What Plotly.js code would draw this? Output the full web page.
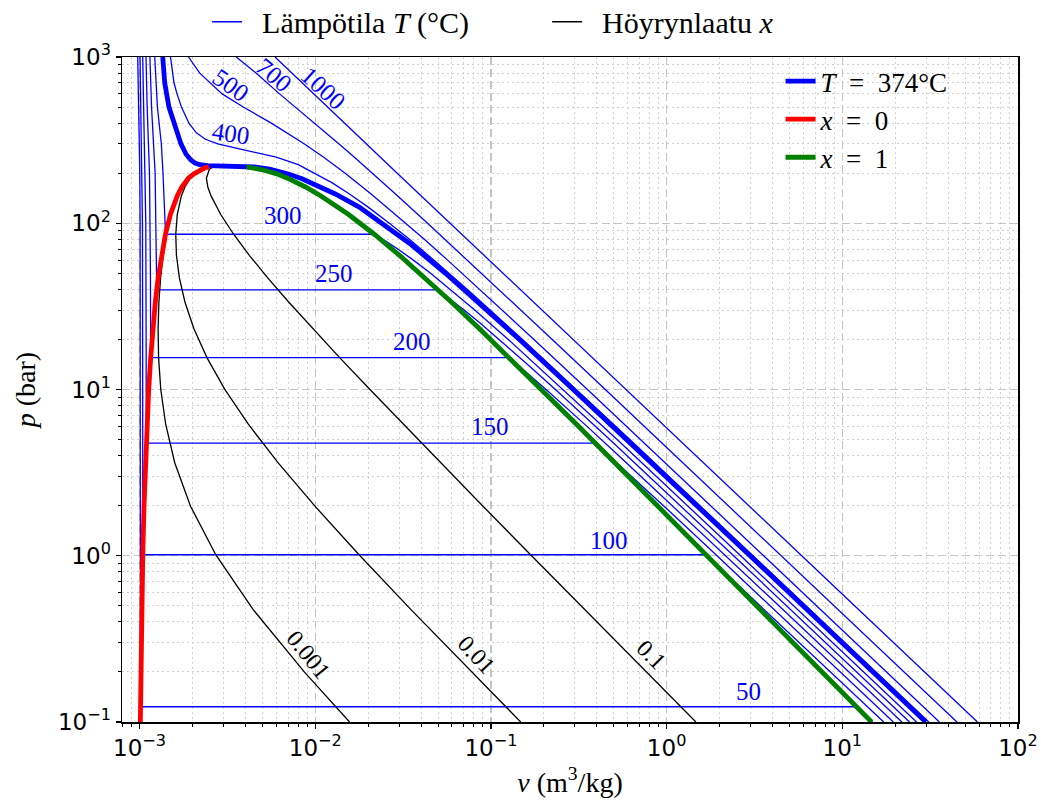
<!DOCTYPE html>
<html>
<head>
<meta charset="utf-8">
<script src="https://cdn.plot.ly/plotly-3.0.1.min.js"></script>
<style>html,body{margin:0;padding:0;background:#fff;}#chart{width:1041px;height:803px;}</style>
</head>
<body>
<div id="chart"></div>
<script>
// ---------- Saturation data (steam tables) ----------
const satP  = [0.1,0.19946,0.47416,1.01418,1.9867,3.6154,6.1823,10.028,15.549,23.196,33.469,46.923,64.166,85.879,112.84,146.01,165.29,186.66,198.2,210.43,215.5,218.1];
const satVf = [0.001010,0.001017,0.001029,0.001043,0.001060,0.001080,0.001102,0.001127,0.001157,0.001190,0.001229,0.001276,0.001333,0.001404,0.001499,0.001638,0.001740,0.001895,0.00204,0.002217,0.002355,0.00248];
const satVg = [14.670,7.6672,3.4052,1.6720,0.89133,0.50850,0.30681,0.19405,0.12721,0.08609,0.05970,0.04217,0.03015,0.02166,0.01548,0.01078,0.00880,0.00695,0.00604,0.00495,0.004413,0.00406];

// ---------- Quality lines (v at the saturation pressures above) ----------
const qLevels = ['0.001','0.01','0.1'];
const qV0001 = [0.015679,0.008683,0.004433,0.002714,0.001950,0.001587,0.001408,0.001320,0.001283,0.001275,0.001288,0.001317,0.001362,0.001424,0.001513,0.001647,0.001747,0.001900,0.002044,0.002220,0.002357,0.002482];
const qV001  = [0.14770,0.077679,0.035071,0.017753,0.009963,0.006154,0.004159,0.003056,0.002418,0.002039,0.001814,0.001685,0.001621,0.001607,0.001639,0.001729,0.001811,0.001946,0.00208,0.002244,0.002376,0.002496];
const qV01   = [1.46791,0.767635,0.341446,0.16814,0.090087,0.051822,0.031673,0.020419,0.013762,0.00968,0.007076,0.005365,0.004215,0.003430,0.002897,0.002552,0.002446,0.002401,0.00244,0.002490,0.002561,0.002638];

// ---------- Isotherms ----------
const iso50P  = [1000,500,200,100,10,0.12352,0.12352,0.1];
const iso50V  = [0.000976,0.00099,0.001003,0.001007,0.001011,0.001012,12.026,14.867];
const iso100P = [1000,500,200,100,10,1.01418,1.01418,0.5,0.1];
const iso100V = [0.001006,0.0010172,0.0010337,0.0010385,0.001042,0.001043,1.6720,3.4187,17.196];
const iso150P = [1000,500,200,100,20,4.7616,4.7616,4,3,2,1,0.5,0.1];
const iso150V = [0.001042,0.001055,0.00108,0.001085,0.00109,0.001091,0.39248,0.47088,0.63402,0.95986,1.9367,3.8897,19.513];
const iso200P = [1000,500,200,100,50,15.549,15.549,10,8,6,4,2,1,0.5,0.1];
const iso200V = [0.001088,0.0011046,0.001139,0.0011482,0.001153,0.001157,0.12721,0.20602,0.26088,0.35212,0.53434,1.08049,2.1724,4.3562,21.826];
const iso250P = [1000,500,200,100,50,39.762,39.762,35,30,25,20,14,10,5,1,0.1];
const iso250V = [0.001145,0.00117,0.001226,0.00124,0.00125,0.001252,0.05008,0.05875,0.07058,0.08706,0.11150,0.16350,0.23275,0.47443,2.4062,24.136];
const iso300P = [1000,500,300,200,100,85.879,85.879,80,70,60,50,40,30,20,10,5,1,0.1];
const iso300V = [0.00122,0.0012632,0.0013304,0.0013596,0.0013972,0.001404,0.02166,0.02428,0.02948,0.03619,0.04535,0.05884,0.08118,0.12551,0.25799,0.52261,2.6389,26.446];
const iso374P = [1000,700,500,400,300,260,240,230,225,222,221,220.7,220.2,218,212,205,197,185,170,150,125,100,75,50,30,20,10,5,1,0.1];
const iso374V = [0.001355,0.00139,0.00147,0.00157,0.00172,0.00184,0.00196,0.00207,0.0022,0.00245,0.0028,0.0032,0.0038,0.0045,0.0055,0.0063,0.0071,0.0084,0.0100,0.0130,0.0178,0.0240,0.0348,0.0551,0.0952,0.1452,0.294,0.5935,2.985,29.87];
const iso400P = [1000,700,600,500,400,350,320,300,280,260,250,225,200,175,150,125,100,80,60,40,20,10,5,1,0.1];
const iso400V = [0.0015,0.00157,0.0016335,0.0017309,0.0019108,0.0021045,0.00237,0.002789,0.0037,0.0052,0.0060014,0.0080,0.00995,0.0125,0.01565,0.02001,0.02641,0.03435,0.04742,0.07343,0.15122,0.30661,0.6173,3.1027,31.063];
const iso500P = [1000,800,600,500,400,300,250,200,150,100,80,60,40,20,10,5,1,0.1];
const iso500V = [0.0019,0.0022,0.0029516,0.0038924,0.0056231,0.0086793,0.011123,0.014793,0.02080,0.03281,0.04177,0.05667,0.08643,0.17568,0.35411,0.71095,3.5655,35.679];
const iso700P = [1000,800,600,500,400,300,250,200,150,100,50,20,10,5,1,0.1];
const iso700V = [0.00355,0.0046,0.006265,0.0077,0.009941,0.013661,0.016646,0.02113,0.02862,0.04358,0.08849,0.22326,0.44783,0.89696,4.4900,44.911];
const iso1000P = [1000,600,400,200,100,50,10,1,0.1];
const iso1000V = [0.0059,0.00988,0.01471,0.02927,0.05848,0.11723,0.58703,5.8755,58.757];

// ---------- Labels ----------
const tLabelText = ['300','250','200','150','100','50','400','500','700','1000'];
const tLabelV    = [0.00651,0.01286,0.03574,0.0993,0.472,2.92,0.00333,0.00333,0.00586,0.01113];
const tLabelP    = [110.6,49.9,19.46,6.0,1.238,0.153,347,674,774,646];
const tLabelAng  = [0,0,0,0,0,0,8,35,40,42];
const qLabelV    = [0.00915,0.0827,0.8194];
const qLabelP    = [0.252,0.252,0.252];
const qLabelAng  = [51,47,45];

// ---------- Ticks ----------
const xTickVals = [0.001,0.01,0.1,1,10,100];
const xTickText = ['10<sup>−3</sup>','10<sup>−2</sup>','10<sup>−1</sup>','10<sup>0</sup>','10<sup>1</sup>','10<sup>2</sup>'];
const yTickVals = [0.1,1,10,100,1000];
const yTickText = ['10<sup>−1</sup>','10<sup>0</sup>','10<sup>1</sup>','10<sup>2</sup>','10<sup>3</sup>'];

function minorVals(lo, hi){
  const out=[];
  for(let e=lo;e<=hi;e++){for(let d=2;d<=9;d++){out.push(d*Math.pow(10,e));}}
  return out;
}

const SERIF = 'Liberation Serif, Times New Roman, serif';
const BLUE = '#0000ff';
const thinW = 1.3;
const thickW = 4.8;

const traces = [];
const thinIsos = [
  [iso50V,iso50P],[iso100V,iso100P],[iso150V,iso150P],[iso200V,iso200P],[iso250V,iso250P],[iso300V,iso300P],
  [iso400V,iso400P],[iso500V,iso500P],[iso700V,iso700P],[iso1000V,iso1000P]
];
thinIsos.forEach((d,i)=>{
  traces.push({x:d[0], y:d[1], type:'scatter', mode:'lines', line:{color:BLUE,width:thinW},
    name:'\u2002Lämpötila <i>T</i> (°C)', legend:'legend2', showlegend:i===0, hoverinfo:'skip'});
});
[qV0001,qV001,qV01].forEach((v,i)=>{
  traces.push({x:v, y:satP, type:'scatter', mode:'lines', line:{color:'black',width:thinW},
    name:'\u2002Höyrynlaatu <i>x</i>', legend:'legend2', showlegend:i===0, hoverinfo:'skip'});
});
traces.push({x:iso374V, y:iso374P, type:'scatter', mode:'lines', line:{color:BLUE,width:thickW},
  name:'<i>T</i>\u2002=\u2002374°C', legend:'legend', legendgroup:'a', showlegend:true});
traces.push({x:satVf, y:satP, type:'scatter', mode:'lines', line:{color:'#ff0000',width:thickW},
  name:'<i>x</i>\u2002=\u20020', legend:'legend', legendgroup:'b', showlegend:true});
traces.push({x:satVg.slice().reverse(), y:satP.slice().reverse(), type:'scatter', mode:'lines', line:{color:'#008000',width:thickW},
  name:'<i>x</i>\u2002=\u20021', legend:'legend', legendgroup:'c', showlegend:true});

const annotations = [];
tLabelText.forEach((t,i)=>{
  annotations.push({xref:'x', yref:'y', x:Math.log10(tLabelV[i]), y:Math.log10(tLabelP[i]), text:t,
    showarrow:false, textangle:tLabelAng[i], xanchor:'center', yanchor:'middle',
    font:{family:SERIF, size:25, color:BLUE}});
});
qLevels.forEach((t,i)=>{
  annotations.push({xref:'x', yref:'y', x:Math.log10(qLabelV[i]), y:Math.log10(qLabelP[i]), text:t,
    showarrow:false, textangle:qLabelAng[i], xanchor:'center', yanchor:'middle',
    font:{family:SERIF, size:24, color:'black'}});
});

const axisCommon = {
  type:'log', tickmode:'array', ticks:'outside', ticklen:5, tickwidth:1.2, tickcolor:'black',
  showline:true, linecolor:'black', linewidth:1.5, mirror:true,
  showgrid:true, gridcolor:'#c4c4c4', griddash:'8px,4px', gridwidth:1.2, zeroline:false,
  tickfont:{family:'DejaVu Sans', size:23, color:'black'}, automargin:false
};

const layout = {
  width:1041, height:803,
  margin:{l:122, r:23, t:57, b:81, autoexpand:false},
  paper_bgcolor:'white', plot_bgcolor:'white',
  hovermode:false,
  xaxis:Object.assign({}, axisCommon, {
    range:[-3.1,2], tickvals:xTickVals, ticktext:xTickText,
    title:{text:'<i>v</i> (m<sup>3</sup>/kg)', font:{family:SERIF,size:28,color:'black'}, standoff:12},
    minor:{tickmode:'array', tickvals:minorVals(-4,1), ticks:'outside', ticklen:3, tickwidth:1, tickcolor:'black',
      showgrid:true, gridcolor:'#d0d0d0', griddash:'2px,3px', gridwidth:1}
  }),
  yaxis:Object.assign({}, axisCommon, {
    range:[-1,3], tickvals:yTickVals, ticktext:yTickText,
    title:{text:'<i>p</i> (bar)', font:{family:SERIF,size:28,color:'black'}, standoff:14},
    minor:{tickmode:'array', tickvals:minorVals(-1,2), ticks:'outside', ticklen:3, tickwidth:1, tickcolor:'black',
      showgrid:true, gridcolor:'#d0d0d0', griddash:'2px,3px', gridwidth:1}
  }),
  legend:{x:0.735, xanchor:'left', y:1.0, yanchor:'top', bgcolor:'rgba(255,255,255,0)', borderwidth:0,
    font:{family:SERIF, size:27, color:'black'}, tracegroupgap:0},
  legend2:{orientation:'h', x:0.095, xanchor:'left', y:1.053, yanchor:'middle', bgcolor:'rgba(255,255,255,0)',
    font:{family:SERIF, size:30, color:'black'}, entrywidth:295, entrywidthmode:'pixels'},
  annotations:annotations
};

Plotly.newPlot('chart', traces, layout, {staticPlot:true, displayModeBar:false});
</script>
</body>
</html>
